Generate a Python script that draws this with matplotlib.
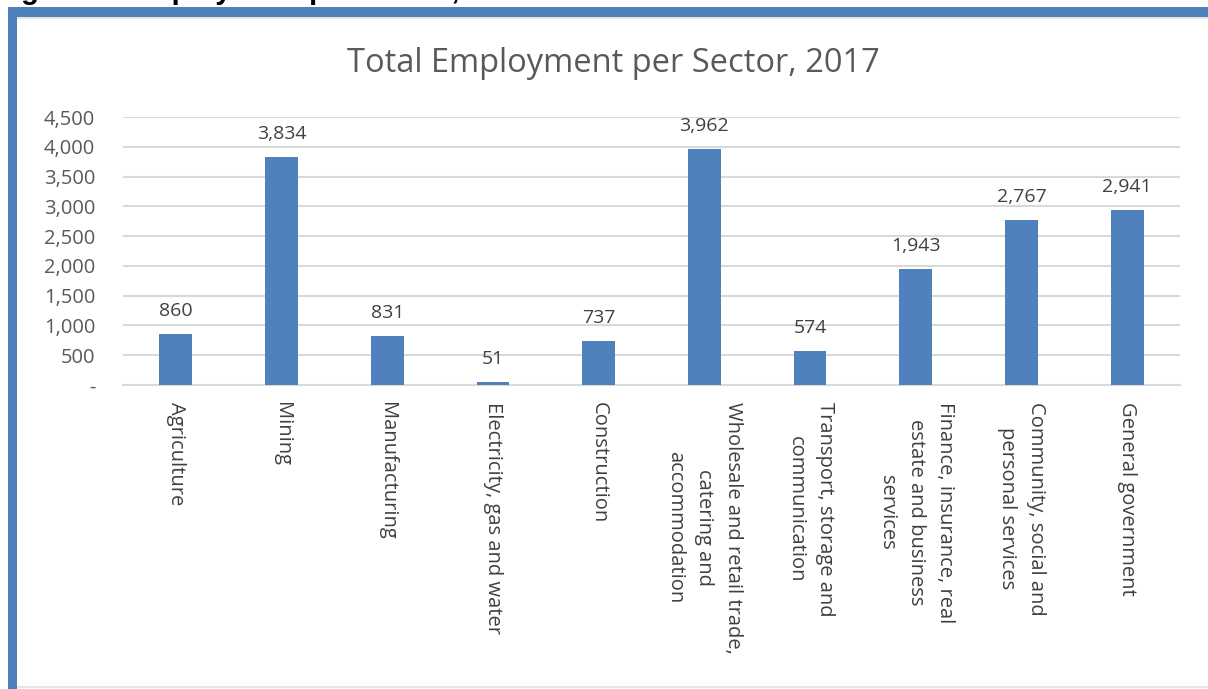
import matplotlib
matplotlib.use("Agg")
import matplotlib.pyplot as plt
from matplotlib.patches import Rectangle
from matplotlib.ticker import FuncFormatter

sectors = [
    "Agriculture",
    "Mining",
    "Manufacturing",
    "Electricity, gas and water",
    "Construction",
    "Wholesale and retail trade,\ncatering and\naccommodation",
    "Transport, storage and\ncommunication",
    "Finance, insurance, real\nestate and business\nservices",
    "Community, social and\npersonal services",
    "General government",
]
employment = [860, 3834, 831, 51, 737, 3962, 574, 1943, 2767, 2941]
y_ticks = [0, 500, 1000, 1500, 2000, 2500, 3000, 3500, 4000, 4500]

BAR = "#4F81BD"
TEXT = "#595959"
GRID = "#D9D9D9"
FONT = ["Open Sans", "DejaVu Sans"]

plt.rcParams["font.family"] = FONT

fig = plt.figure(figsize=(12.08, 6.89), dpi=100)
fig.patch.set_facecolor("white")

# document caption sitting above the chart frame (only its descenders remain)
fig.text(-0.004, 1 + 1 / 689, "Figure 3: Employment per Sector, 2017",
         fontsize=21, fontweight="bold", color="black",
         family=["Liberation Sans", "DejaVu Sans"], va="baseline", ha="left")

# blue chart frame (top and left edges)
fig.add_artist(Rectangle((8 / 1208, 1 - 17 / 689), 1.0, 10 / 689,
                         transform=fig.transFigure, color=BAR, lw=0))
fig.add_artist(Rectangle((8 / 1208, -0.01), 9 / 1208, 1 - 8 / 689 + 0.01,
                         transform=fig.transFigure, color=BAR, lw=0))
fig.add_artist(Rectangle((17 / 1208, 1 - 19 / 689), 1.0, 2 / 689,
                         transform=fig.transFigure, color="#E6E6E6", lw=0))
fig.add_artist(Rectangle((17 / 1208, 1 / 689), 1.0, 2 / 689,
                         transform=fig.transFigure, color="#E6E6E6", lw=0))

ax = fig.add_axes([123 / 1208, 1 - 385 / 689, 1057 / 1208, 268 / 689])
x = list(range(len(sectors)))
bars = ax.bar(x, employment, width=0.31, color=BAR, zorder=3)

for xi, v in zip(x, employment):
    ax.annotate(f"{v:,}", (xi, v), xytext=(0, 10), textcoords="offset points",
                ha="center", va="bottom", fontsize=14, color="#404040")

ax.set_xlim(-0.5, len(sectors) - 0.5)
ax.set_ylim(0, 4500)
ax.set_yticks(y_ticks)
ax.yaxis.set_major_formatter(FuncFormatter(lambda v, p: "-" if v == 0 else f"{int(v):,}"))
ax.grid(axis="y", color=GRID, lw=1.5, zorder=0)
for s in ["top", "right", "left"]:
    ax.spines[s].set_visible(False)
ax.spines["bottom"].set_color(GRID)
ax.spines["bottom"].set_linewidth(1.5)
ax.tick_params(axis="both", length=0, colors=TEXT)
ax.tick_params(axis="y", pad=20, labelsize=14.5)
ax.tick_params(axis="x", pad=12, labelsize=14.5)

ax.set_xticks(x)
ax.set_xticklabels(sectors, rotation=270, ha="center", va="top",
                   multialignment="center", linespacing=1.6, color="#404040")

fig.text(613 / 1208, 1 - 64 / 689, "Total Employment per Sector, 2017",
         fontsize=23.5, color=TEXT, ha="center", va="center")

fig.savefig("out.png", dpi=100, facecolor="white")
